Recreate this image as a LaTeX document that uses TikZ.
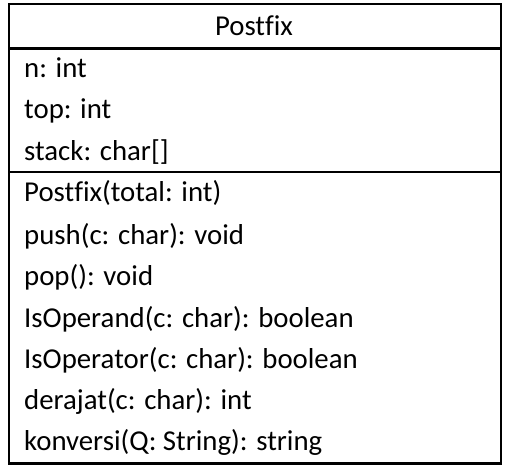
\documentclass[tikz,border=0pt]{standalone}
\usepackage{fontspec}
\setmainfont{Carlito}[Ligatures=NoCommon]
\begin{document}
\begin{tikzpicture}[x=1pt,y=1pt,
  member/.style={anchor=base west,inner sep=0pt,font=\fontsize{28.8}{34}\selectfont},
  titletext/.style={anchor=base,inner sep=0pt,font=\fontsize{28.8}{34}\selectfont},
  frame/.style={draw=black,line width=2.2pt}]
\useasboundingbox (0,0) rectangle (510,472);
\node[frame,rectangle,minimum width=492pt,minimum height=459pt,anchor=south west,inner sep=0pt] (box) at (8,7.5) {};
\coordinate (d1l) at (8,423.5); \coordinate (d1r) at (500,423.5);
\coordinate (d2l) at (8,300); \coordinate (d2r) at (500,300);
\draw[frame] (d1l) -- (d1r);
\draw[frame] (d2l) -- (d2r);
\node[titletext] (title) at (254,436) {Postfix};
\node[member] (a1) at (24,394.5) {n: int};
\node[member] (a2) at (24,353.5) {top: int};
\node[member] (a3) at (24,312) {stack: char[]};
\node[member] (m1) at (24,270.5) {Postfix(total: int)};
\node[member] (m2) at (24,227.5) {push(c: char): void};
\node[member] (m3) at (24,186.5) {pop(): void};
\node[member] (m4) at (24,144.5) {IsOperand(c: char): boolean};
\node[member] (m5) at (24,104) {IsOperator(c: char): boolean};
\node[member] (m6) at (24,62.5) {derajat(c: char): int};
\node[member] (m7) at (24,22) {konversi(Q: String): string};
\end{tikzpicture}
\end{document}
